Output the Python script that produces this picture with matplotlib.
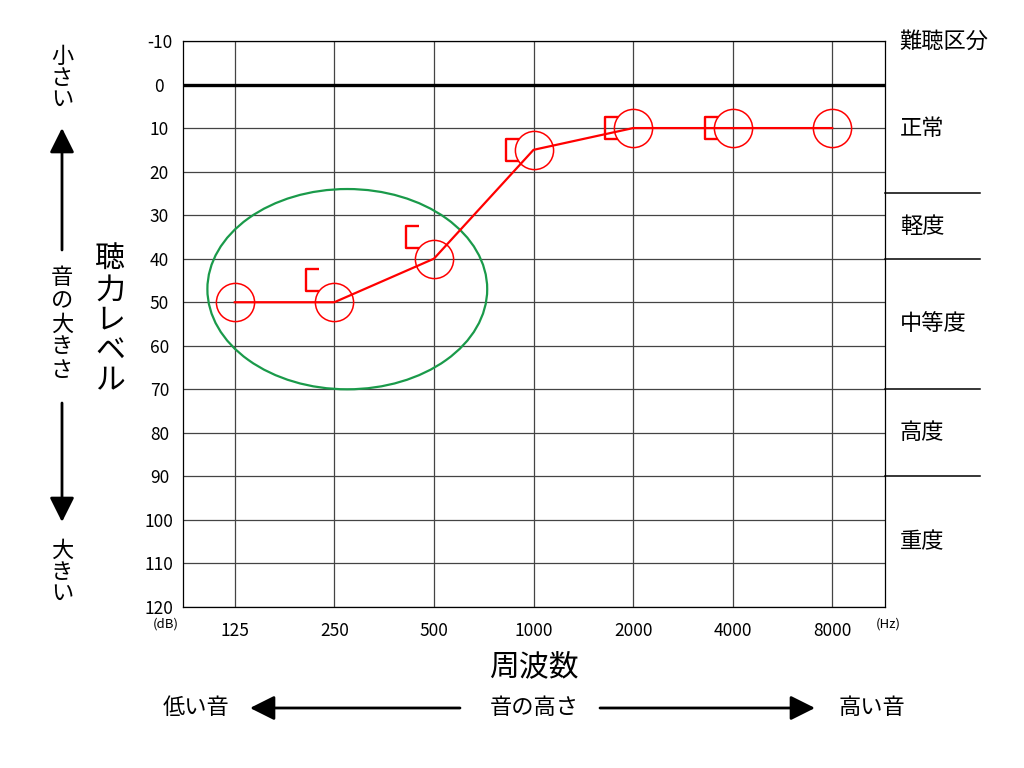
import matplotlib
matplotlib.use('Agg')
import matplotlib.pyplot as plt
import matplotlib.transforms as mtransforms
import numpy as np
from matplotlib.patches import Ellipse
from matplotlib.path import Path

plt.rcParams['font.family'] = ['Noto Sans CJK JP', 'DejaVu Sans']

# データ
freqs = ['125', '250', '500', '1000', '2000', '4000', '8000']
air_db = [50, 50, 40, 15, 10, 10, 10]
bone_freqs = ['250', '500', '1000', '2000', '4000']
bone_db = [45, 35, 15, 10, 10]
db_ticks = list(range(-10, 121, 10))
grade_bounds = [25, 40, 70, 90]
grade_names = ['正常', '軽度', '中等度', '高度', '重度']
grade_pos = [10, 32.5, 55, 80, 105]

W, H = 1024, 768


def fx(px):
    return px / W


def fy(py):
    return 1 - py / H


fig = plt.figure(figsize=(W / 100, H / 100), dpi=100)
ax = fig.add_axes([fx(183), fy(607), 702 / W, 566 / H])

x = np.arange(len(freqs))
bx = [freqs.index(f) for f in bone_freqs]

ax.set_xlim(-0.52, len(freqs) - 1 + 0.53)
ax.set_ylim(120, -10)
ax.set_xticks(x)
ax.set_xticklabels(freqs, fontsize=12.5)
ax.set_yticks(db_ticks)
ax.set_yticklabels([str(v) for v in db_ticks], fontsize=12.5)
ax.tick_params(axis='both', length=0)
ax.tick_params(axis='y', pad=17)
ax.tick_params(axis='x', pad=11)
for lab in ax.get_yticklabels():
    lab.set_horizontalalignment('center')
ax.grid(True, color='#444444', lw=0.9)
ax.set_axisbelow(True)
for sp in ax.spines.values():
    sp.set_color('black')
    sp.set_linewidth(0.9)
ax.axhline(0, color='black', lw=2.4, zorder=2)

# 楕円
ell = Ellipse((1.13, 47), 2.81, 46, fill=False, ec='#1a9a4a', lw=1.6, zorder=3)
ax.add_patch(ell)

# 気導
ax.plot(x, air_db, color='red', lw=1.6, marker='o', ms=27.5,
        mfc='none', mec='red', mew=1.1, zorder=4)

# 骨導 [
bracket = Path([(-0.7, 0.5), (-1.3, 0.5), (-1.3, -0.5), (-0.7, -0.5)],
               [Path.MOVETO, Path.LINETO, Path.LINETO, Path.LINETO])
ax.plot(bx, bone_db, linestyle='none', marker=bracket, ms=41, mfc='none',
        mec='red', mew=1.7, zorder=4)

# 難聴区分
trans = mtransforms.blended_transform_factory(ax.transAxes, ax.transData)
for b in grade_bounds:
    ax.plot([1, 1.135], [b, b], transform=trans, color='black', lw=1.1, clip_on=False)
for name, pos in zip(grade_names, grade_pos):
    ax.text(1.021, pos, name, transform=trans, ha='left', va='center', fontsize=16)
ax.text(1.021, -10, '難聴区分', transform=trans, ha='left', va='center', fontsize=16)

fig.text(fx(166), fy(624), '(dB)', ha='center', va='center', fontsize=9.5)
fig.text(fx(888), fy(624), '(Hz)', ha='center', va='center', fontsize=9.5)

# 縦書き
def vtext(px, py, s, size, sp=1.0):
    fig.text(fx(px), fy(py), '\n'.join(s), ha='center', va='center',
             fontsize=size, linespacing=sp)


vtext(110, 320, '聴力レベル', 21.5, 0.97)
vtext(62, 78, '小さい', 16, 0.9)
vtext(62, 324, '音の大きさ', 16, 1.0)
vtext(62, 572, '大きい', 16, 0.9)

fig.text(fx(534), fy(667), '周波数', ha='center', va='center', fontsize=21.5)
fig.text(fx(196), fy(708), '低い音', ha='center', va='center', fontsize=16)
fig.text(fx(534), fy(708), '音の高さ', ha='center', va='center', fontsize=16)
fig.text(fx(872), fy(708), '高い音', ha='center', va='center', fontsize=16)

# 矢印
arrow = dict(arrowstyle='-|>,head_length=1.0,head_width=0.5', mutation_scale=15,
             lw=2, color='black', shrinkA=0, shrinkB=0)
for (x0, y0), (x1, y1) in [((62, 250), (62, 128)), ((62, 403), (62, 522)),
                           ((460, 708), (250, 708)), ((600, 708), (815, 708))]:
    ax.annotate('', xy=(fx(x1), fy(y1)), xytext=(fx(x0), fy(y0)),
                xycoords='figure fraction', textcoords='figure fraction',
                arrowprops=arrow, annotation_clip=False)

fig.savefig('out.png', dpi=100)
